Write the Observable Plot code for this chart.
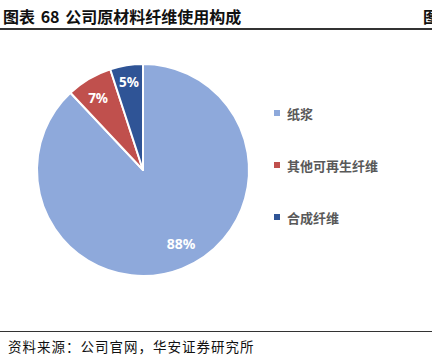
<!DOCTYPE html>
<html><head><meta charset="utf-8">
<script src="https://cdn.jsdelivr.net/npm/d3@7"></script>
<script src="https://cdn.jsdelivr.net/npm/@observablehq/plot@0.6"></script>
<style>
body{margin:0;background:#fff;font-family:"Noto Sans CJK SC","Noto Sans",sans-serif;}
#wrap{position:relative;width:432px;height:362px;overflow:hidden;background:#fff;}
#title{position:absolute;left:3px;top:4px;font-size:16px;font-weight:bold;color:#111;white-space:nowrap;word-spacing:2px;}
#title2{position:absolute;left:423px;top:4px;font-size:16px;font-weight:bold;color:#111;}
#line1{position:absolute;left:0;top:28px;width:432px;height:1.5px;background:#333;}
#line2{position:absolute;left:0;top:331px;width:432px;height:1px;background:#333;}
#source{position:absolute;left:8px;top:336px;font-size:13.5px;color:#111;letter-spacing:1px;white-space:nowrap;}
#chart{position:absolute;left:0;top:0;}
#legend{position:absolute;left:274px;top:103px;}
.li{display:flex;align-items:center;height:20px;margin-bottom:32px;font-size:13px;font-weight:bold;color:#595959;}
.sw{width:6px;height:6px;margin-right:7px;}
</style></head>
<body><div id="wrap">
<div id="title">图表 68 公司原材料纤维使用构成</div>
<div id="title2">图</div>
<div id="line1"></div>
<div id="chart"></div>
<div id="legend"></div>
<div id="line2"></div>
<div id="source">资料来源：公司官网，华安证券研究所</div>
</div>
<script>
const categories = ["纸浆", "其他可再生纤维", "合成纤维"];
const values = [88, 7, 5];
const labels = ["88%", "7%", "5%"];
const colors = ["#8EA9DB", "#C0504D", "#2F5496"];

const data = categories.map((c, i) => ({category: c, value: values[i], label: labels[i]}));

function pieMark(index, scales, vals, dims) {
  const cx = 143, cy = 170, r = 106;
  const color = scales.color || d3.scaleOrdinal(categories, colors);
  const pie = d3.pie().sort(null).value(d => d.value)(data);
  const arc = d3.arc().innerRadius(0).outerRadius(r);
  const g = d3.create("svg:g").attr("transform", `translate(${cx},${cy})`);
  g.selectAll("path").data(pie).join("path")
    .attr("d", arc)
    .attr("fill", d => color(d.data.category))
    .attr("stroke", "#fff")
    .attr("stroke-width", 2)
    .attr("stroke-linejoin", "round");
  // label placement: [angle override, radius fraction]
  const place = [[2.667, 0.785], [5.725, 0.80], [null, 0.84]];
  g.selectAll("text").data(pie).join("text")
    .attr("transform", (d, i) => {
      const ang = place[i][0] ?? (d.startAngle + d.endAngle) / 2;
      const rr = r * place[i][1];
      return `translate(${Math.sin(ang) * rr},${-Math.cos(ang) * rr})`;
    })
    .attr("text-anchor", "middle")
    .attr("dy", "0.36em")
    .attr("fill", "#fff")
    .attr("font-weight", "bold")
    .attr("font-size", (d, i) => i === 0 ? 14 : 13.5)
    .attr("font-family", "'Noto Sans','Noto Sans CJK SC',sans-serif")
    .text(d => d.data.label);
  return g.node();
}

const chart = Plot.plot({
  width: 290,
  height: 330,
  margin: 0,
  x: {axis: null},
  y: {axis: null},
  color: {domain: categories, range: colors},
  marks: [pieMark]
});
document.getElementById("chart").appendChild(chart);

const leg = d3.select("#legend");
categories.forEach((c, i) => {
  const row = leg.append("div").attr("class", "li");
  row.append("div").attr("class", "sw").style("background", colors[i]);
  row.append("span").text(c);
});
</script>
</body></html>
